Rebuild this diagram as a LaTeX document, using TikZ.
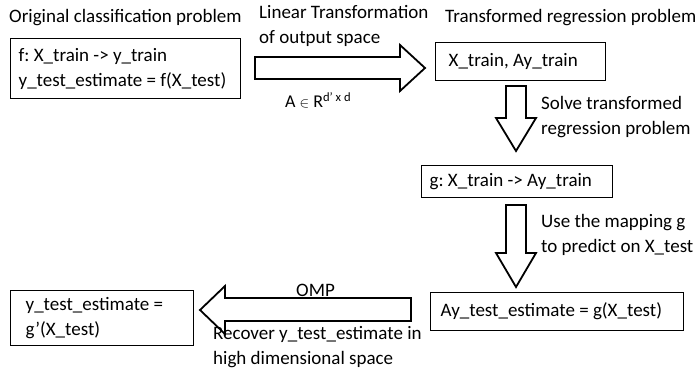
\documentclass[tikz,border=0pt]{standalone}
\usepackage{fontspec}
\setmainfont{Carlito}
\begin{document}
\frenchspacing
\begin{tikzpicture}[x=1pt,y=-1pt,
  font=\fontsize{19}{25}\selectfont,
  box/.style={draw, line width=1.3pt, anchor=north west, align=flush left, inner ysep=0pt},
  lbl/.style={anchor=west, inner sep=0pt, align=flush left},
  blockarrow/.style={draw, line width=1.8pt, fill=white, line join=miter}]
\useasboundingbox (0,0) rectangle (700,371);

% boxes
\node[box, inner xsep=8pt, text width=214pt, minimum height=60pt] (orig) at (10,38)
  {f: X\_train -> y\_train\\y\_test\_estimate = f(X\_test)};
\node[box, inner xsep=13pt, text width=144pt, minimum height=38pt] (trans) at (435,42)
  {X\_train, Ay\_train};
\node[box, inner xsep=8pt, text width=175pt, minimum height=32pt] (gmap) at (421,165)
  {g: X\_train -> Ay\_train};
\node[box, inner xsep=10pt, text width=233pt, minimum height=38pt] (pred) at (430,292)
  {Ay\_test\_estimate = g(X\_test)};
\node[box, inner xsep=15pt, text width=153pt, minimum height=55pt] (recov) at (10,290)
  {y\_test\_estimate =\\g’(X\_test)};

% block arrows
\draw[blockarrow] (255,57) -- (400,57) -- (400,45) -- (425,68) -- (400,91)
  -- (400,79) -- (255,79) -- cycle;
\draw[blockarrow] (506,86) -- (526,86) -- (526,118) -- (536,118) -- (516,151)
  -- (496,118) -- (506,118) -- cycle;
\draw[blockarrow] (506,205) -- (526,205) -- (526,253) -- (536,253) -- (516,287)
  -- (496,253) -- (506,253) -- cycle;
\draw[blockarrow] (411,298) -- (225,298) -- (225,286) -- (200,310) -- (225,334)
  -- (225,321) -- (411,321) -- cycle;

% captions
\node[lbl] (t1) at (9,18) {Original classification problem};
\node[lbl] (t2) at (445,18) {Transformed regression problem};
\node[lbl] (l1) at (259,26) {Linear Transformation\\of output space};
\node[lbl, font=\fontsize{18}{20}\selectfont] (l2) at (285,100)
  {A {\fontsize{15}{16}\selectfont$\in$} R\textsuperscript{d’ x d}};
\node[lbl] (l3) at (541,117.5) {Solve transformed\\regression problem};
\node[lbl] (l4) at (541,234.5) {Use the mapping g\\to predict on X\_test};
\node[lbl] (l5) at (296,290) {OMP};
\node[lbl] (l6) at (213,347.5) {Recover y\_test\_estimate in\\high dimensional space};
\end{tikzpicture}
\end{document}
